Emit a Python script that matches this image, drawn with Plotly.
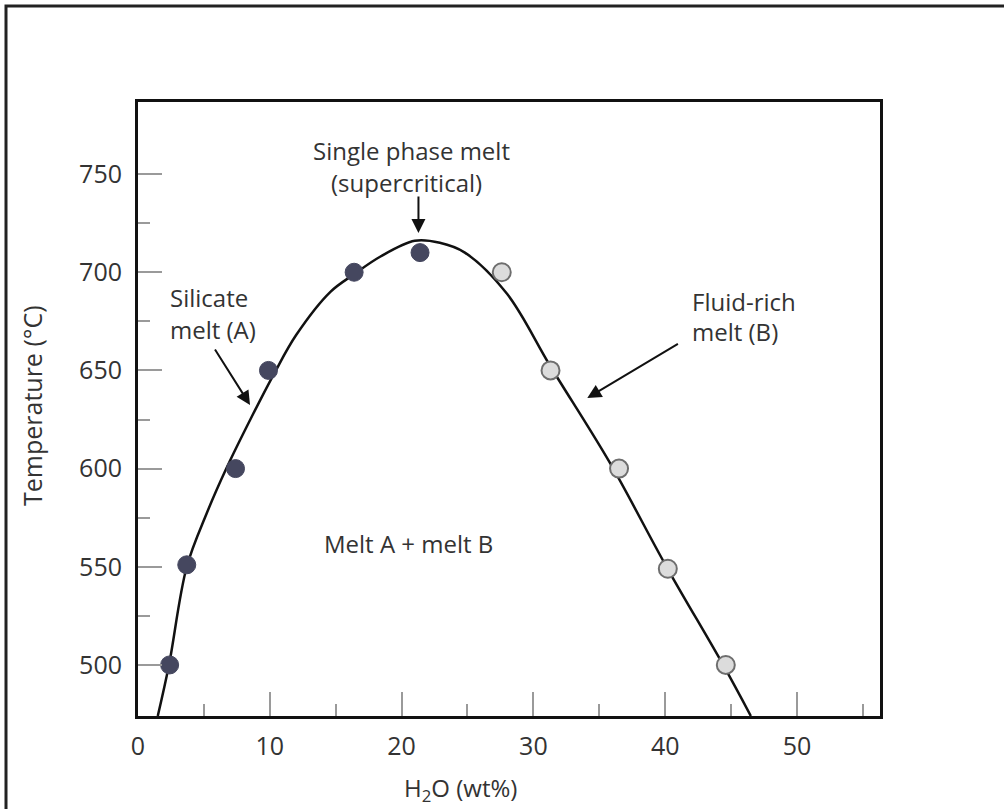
import plotly.graph_objects as go

# ---- data ----
melt_a_h2o = [2.4, 3.7, 7.4, 9.9, 16.4, 21.4]
melt_a_temp = [500, 551, 600, 650, 700, 710]

melt_b_h2o = [27.6, 31.3, 36.5, 40.2, 44.6]
melt_b_temp = [700, 650, 600, 549, 500]

solvus_h2o = [1.5, 2.35, 3.7, 5.2, 6.7, 8.6, 10.3, 12.0, 14.6, 16.4, 18.4,
              21.0, 22.9, 24.8, 28.0, 31.3, 35.8, 40.1, 44.4, 46.5]
solvus_temp = [474, 500, 550, 577, 600, 626, 648, 668, 690, 699, 708,
               716, 715, 710, 689, 652, 603, 550, 500, 474]

x_ticks = [0, 10, 20, 30, 40, 50]
y_ticks = [500, 550, 600, 650, 700, 750]

FONT = "Open Sans"
TXT = "#333333"
FS = 24

fig = go.Figure()
fig.add_trace(go.Scatter(x=solvus_h2o, y=solvus_temp, mode="lines",
                         line=dict(color="#111111", width=2.5, shape="spline", smoothing=1.0),
                         showlegend=False, hoverinfo="skip"))
fig.add_trace(go.Scatter(x=melt_a_h2o, y=melt_a_temp, mode="markers",
                         marker=dict(size=18, color="#45475f", line=dict(color="#45475f", width=1)),
                         showlegend=False, name="Silicate melt (A)"))
fig.add_trace(go.Scatter(x=melt_b_h2o, y=melt_b_temp, mode="markers",
                         marker=dict(size=18, color="#dcdcdc", line=dict(color="#6e6e6e", width=2)),
                         showlegend=False, name="Fluid-rich melt (B)"))

def txt(x, y, s, xanchor="center"):
    fig.add_annotation(x=x, y=y, xref="x", yref="y", text=s, showarrow=False,
                       xanchor=xanchor, yanchor="middle",
                       font=dict(family=FONT, size=FS, color=TXT))

def arrow(x0, y0, x1, y1):
    fig.add_annotation(x=x1, y=y1, ax=x0, ay=y0, xref="x", yref="y", axref="x", ayref="y",
                       text="", showarrow=True, arrowhead=2, arrowsize=1.4, arrowwidth=2,
                       arrowcolor="#111111", standoff=0)

txt(20.73, 762.2, "Single phase melt")
txt(20.35, 745.9, "(supercritical)")
arrow(21.28, 739.3, 21.28, 720.0)

txt(2.28, 686.9, "Silicate", "left")
txt(2.28, 670.6, "melt (A)", "left")
arrow(5.77, 661.4, 8.50, 632.4)

txt(41.9, 685.0, "Fluid-rich", "left")
txt(41.9, 669.7, "melt (B)", "left")
arrow(41.08, 664.0, 34.09, 635.9)

txt(20.5, 562.1, "Melt A + melt B")

# axis titles
fig.add_annotation(x=(460 - 138) / 742, y=(716 - 789) / 614, xref="paper", yref="paper",
                   text="H<sub>2</sub>O (wt%)", showarrow=False, xanchor="center", yanchor="middle",
                   font=dict(family=FONT, size=FS, color=TXT))
fig.add_annotation(x=(32 - 138) / 742, y=(716 - 406) / 614, xref="paper", yref="paper",
                   text="Temperature (°C)", showarrow=False, textangle=-90,
                   xanchor="center", yanchor="middle",
                   font=dict(family=FONT, size=25, color=TXT))

# outer frame
fig.add_shape(type="rect", xref="paper", yref="paper",
              x0=(6 - 138) / 742, x1=(1020 - 138) / 742,
              y0=(716 - 820) / 614, y1=(716 - 6) / 614,
              line=dict(color="#222222", width=3), fillcolor="rgba(0,0,0,0)", layer="above")

fig.update_xaxes(range=[0, 56.3], tickvals=x_ticks, ticks="inside", ticklen=24, tickwidth=1.5,
                 tickcolor="#9a9a9a", showgrid=False, zeroline=False,
                 showline=True, linecolor="#111111", linewidth=3, mirror=True,
                 tickfont=dict(family=FONT, size=25, color=TXT), ticklabelstandoff=6,
                 minor=dict(tickvals=[5, 15, 25, 35, 45, 55], ticks="inside", ticklen=12,
                            tickwidth=1.5, tickcolor="#9a9a9a", showgrid=False))
fig.update_yaxes(range=[474, 786.7], tickvals=y_ticks, ticks="inside", ticklen=24, tickwidth=1.5,
                 tickcolor="#9a9a9a", showgrid=False, zeroline=False,
                 showline=True, linecolor="#111111", linewidth=3, mirror=True,
                 tickfont=dict(family=FONT, size=25, color=TXT), ticklabelstandoff=8,
                 minor=dict(tickvals=[525, 575, 625, 675, 725], ticks="inside", ticklen=12,
                            tickwidth=1.5, tickcolor="#9a9a9a", showgrid=False))

fig.update_layout(width=1004, height=809, autosize=False,
                  margin=dict(l=138, r=124, t=102, b=93),
                  paper_bgcolor="white", plot_bgcolor="white",
                  font=dict(family=FONT, color=TXT), showlegend=False)

fig.write_html("out.html")
